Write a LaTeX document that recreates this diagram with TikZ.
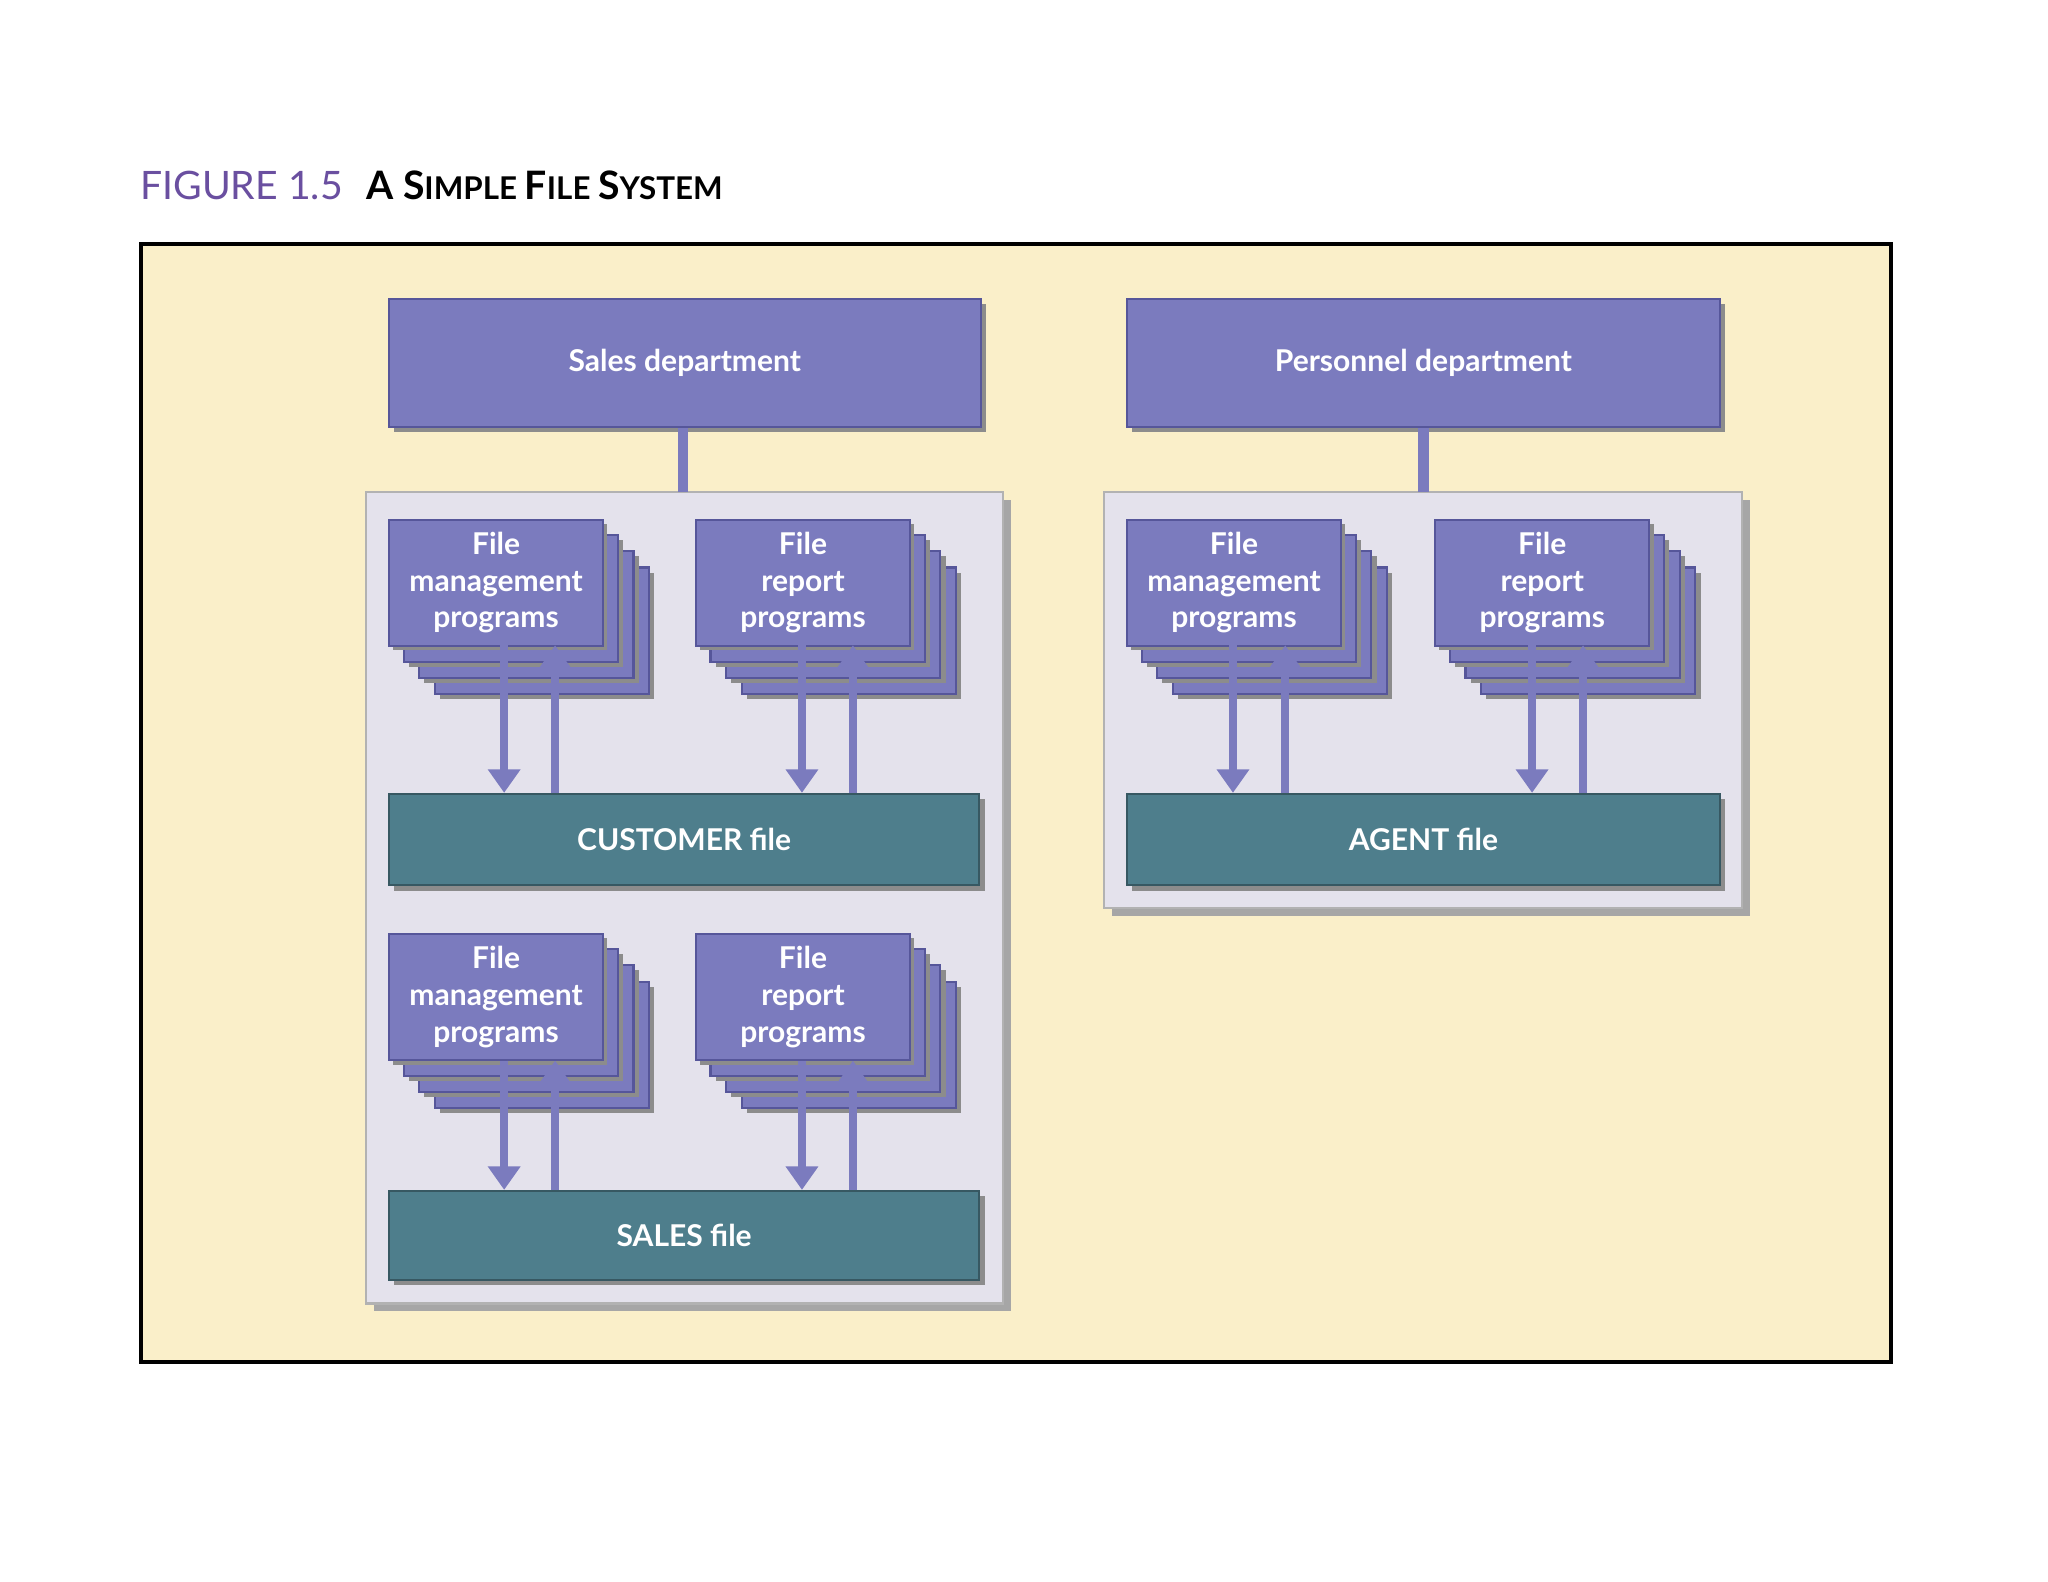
\documentclass[tikz,border=0pt]{standalone}
\usepackage{fontspec}
\setmainfont{Lato}
\usetikzlibrary{arrows.meta}
\definecolor{bgyel}{HTML}{FAEFC9}
\definecolor{purp}{HTML}{7B7BBE}
\definecolor{purpd}{HTML}{56569A}
\definecolor{panel}{HTML}{E4E2EC}
\definecolor{teal}{HTML}{4E7E8C}
\definecolor{titlep}{HTML}{6A4FA0}
\tikzset{
 box/.style={fill=purp,draw=purpd,line width=0.8pt,text=white,font=\bfseries\fontsize{11.5}{14}\selectfont,align=center},
 filebox/.style={fill=teal,draw=teal!70!black,line width=0.8pt,text=white,font=\bfseries\fontsize{11.5}{14}\selectfont},
 pan/.style={fill=panel,draw=black!30,line width=0.8pt},
 arr/.style={draw=purp,line width=3pt,-{Triangle[length=9pt,width=12pt]}},
 link/.style={draw=purp,line width=4pt}
}
\newcommand{\stack}[4]{% x y name text
  \foreach \k in {3,2,1}{
    \fill[black!45] ({#1+12*\k+4},{#2+12.5*\k+4}) rectangle ({#1+164+12*\k+4},{#2+97+12.5*\k+4});
    \draw[fill=purp,draw=purpd,line width=0.8pt] ({#1+12*\k},{#2+12.5*\k}) rectangle ({#1+164+12*\k},{#2+97+12.5*\k});
  }
  \fill[black!45] ({#1+4},{#2+4}) rectangle ({#1+168},{#2+101});
  \node[box,minimum width=82pt,minimum height=48.5pt,anchor=north west,inner sep=0pt] (#3) at (#1,#2) {#4};
}
\begin{document}
\begin{tikzpicture}[x=0.5pt,y=-0.5pt]
\fill[white] (0,0) rectangle (1568,1211);
\node[anchor=west,inner sep=0pt,font=\fontsize{15}{16}\selectfont] (title) at (107,142)
  {\textcolor{titlep}{FIGURE 1.5}\hspace{9pt}\textbf{A S\fontsize{12}{14}\selectfont IMPLE \fontsize{15}{16}\selectfont F\fontsize{12}{14}\selectfont ILE \fontsize{15}{16}\selectfont S\fontsize{12}{14}\selectfont YSTEM}};
\draw[fill=bgyel,line width=1.5pt] (108,187) rectangle (1448,1043);
% panels
\fill[black!35] (286,383) rectangle (774,1004);
\draw[pan] (280,377) rectangle (768,998);
\fill[black!35] (851,383) rectangle (1340,701);
\draw[pan] (845,377) rectangle (1334,695);
% departments
\fill[black!45] (302,233) rectangle (755,331);
\node[box,minimum width=226.5pt,minimum height=49pt,anchor=north west,inner sep=0pt] (sales) at (297,228) {Sales department};
\fill[black!45] (867,233) rectangle (1321,331);
\node[box,minimum width=227pt,minimum height=49pt,anchor=north west,inner sep=0pt] (pers) at (862,228) {Personnel department};
\coordinate (lp) at (523,377);
\coordinate (rp) at (1090,377);
\draw[link] (sales.south -| lp) -- (lp);
\draw[link] (pers.south -| rp) -- (rp);
% files
\fill[black!45] (302,612) rectangle (754,682);
\node[filebox,minimum width=226pt,minimum height=35pt,anchor=north west,inner sep=0pt] (cust) at (297,607) {CUSTOMER file};
\fill[black!45] (302,916) rectangle (754,984);
\node[filebox,minimum width=226pt,minimum height=34pt,anchor=north west,inner sep=0pt] (salesf) at (297,911) {SALES file};
\fill[black!45] (867,612) rectangle (1321,682);
\node[filebox,minimum width=227pt,minimum height=35pt,anchor=north west,inner sep=0pt] (agent) at (862,607) {AGENT file};
% stacks
\stack{297}{397}{m1}{File\\management\\programs}
\stack{532}{397}{r1}{File\\report\\programs}
\stack{297}{714}{m2}{File\\management\\programs}
\stack{532}{714}{r2}{File\\report\\programs}
\stack{862}{397}{m3}{File\\management\\programs}
\stack{1098}{397}{r3}{File\\report\\programs}
% arrows
\foreach \a/\b/\y/\f in {386/425/494/cust,614/653/494/cust,386/425/812/salesf,614/653/812/salesf,944/984/494/agent,1173/1212/494/agent}{
  \draw[arr] (\a,\y) -- (\f.north -| {\a,0});
  \draw[arr] (\f.north -| {\b,0}) -- (\b,\y);
}
\end{tikzpicture}
\end{document}
